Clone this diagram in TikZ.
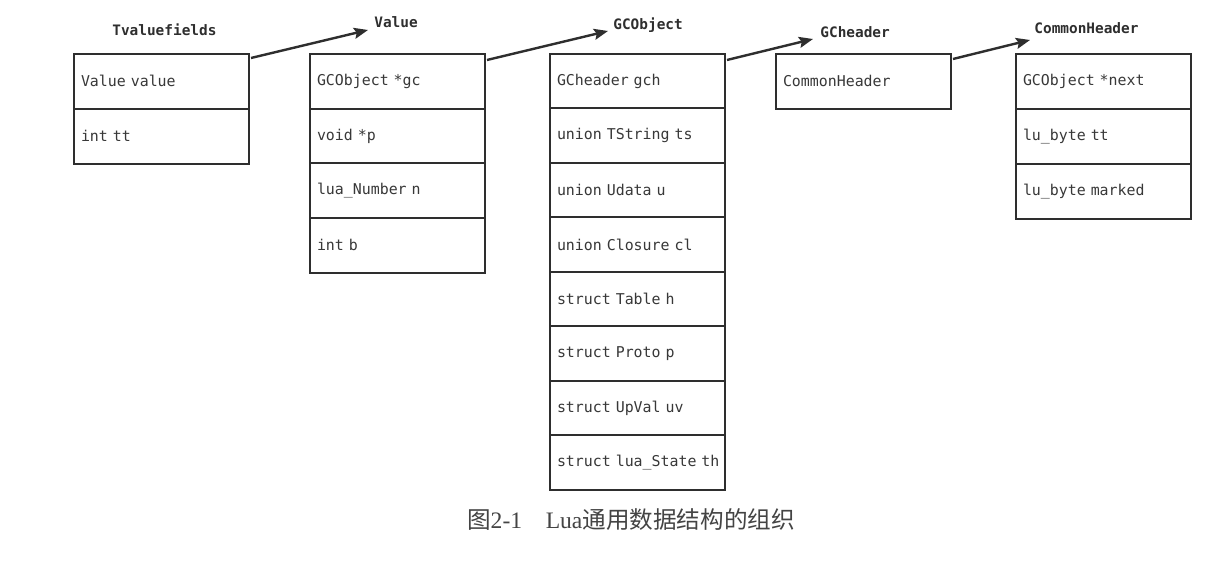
\documentclass[tikz,border=0pt]{standalone}
\usepackage{fontspec}
\usetikzlibrary{arrows.meta}
\setmainfont{Liberation Serif}
\newfontfamily\monof{DejaVu Sans Mono}
\newfontfamily\cjk{Noto Sans CJK SC}
\definecolor{linec}{HTML}{2E2E2E}
\definecolor{textc}{HTML}{383838}
\definecolor{capc}{HTML}{444444}
\newcommand{\celltext}[1]{\makebox[80.5pt][l]{#1}}
\begin{document}
\begin{tikzpicture}[x=0.5pt,y=-0.5pt,
  cell/.style={draw=linec, line width=1pt, fill=white, minimum height=27.3pt,
    text width=80.5pt, inner xsep=3.5pt, inner ysep=0pt, align=left,
    anchor=north west, font=\monof\fontsize{7.45}{8}\selectfont, text=textc},
  title/.style={anchor=west, inner sep=0pt, text=linec,
    font=\monof\bfseries\fontsize{7.2}{8}\selectfont},
  arr/.style={draw=linec, line width=1.2pt, -{Stealth[length=7pt,width=5.5pt,inset=1.2pt]}}]
\useasboundingbox[fill=white] (0,0) rectangle (1230,565);

% titles
\node[title] (htv) at (112,30) {Tvaluefields};
\node[title] (hv)  at (374,22) {Value};
\node[title] (hg)  at (613,25) {GCObject};
\node[title] (hh)  at (820,32) {GCheader};
\node[title] (hc)  at (1034,28) {CommonHeader};

% Tvaluefields
\foreach \t [count=\i from 0] in {Value value, int tt}
  \node[cell] (t\i) at (73,53+55*\i) {\celltext{\t}};
% Value
\foreach \t [count=\i from 0] in {GCObject *gc, void *p, lua\_Number n, int b}
  \node[cell] (v\i) at (309,53+54.7*\i) {\celltext{\t}};
% GCObject
\foreach \t [count=\i from 0] in {GCheader gch, union TString ts, union Udata u, union Closure cl,
    struct Table h, struct Proto p, struct UpVal uv, struct lua\_State th}
  \node[cell] (g\i) at (549,53+54.5*\i) {\celltext{\t}};
% GCheader
\node[cell] (h0) at (775,53) {\celltext{CommonHeader}};
% CommonHeader
\foreach \t [count=\i from 0] in {GCObject *next, lu\_byte tt, lu\_byte marked}
  \node[cell] (c\i) at (1015,53+55*\i) {\celltext{\t}};

% arrows
\draw[arr] ([xshift=0.5pt,yshift=-2.5pt]t0.north east) -- ([xshift=-3pt,yshift=-4pt]hv.west);
\draw[arr] ([xshift=0.5pt,yshift=-3.5pt]v0.north east) -- ([xshift=-2.5pt,yshift=-3pt]hg.west);
\draw[arr] ([xshift=0.5pt,yshift=-3.5pt]g0.north east) -- ([xshift=-3.5pt,yshift=-3.5pt]hh.west);
\draw[arr] ([xshift=0.5pt,yshift=-3pt]h0.north east) -- ([xshift=-2pt,yshift=-6pt]hc.west);

% caption
\node[inner sep=0pt, text=capc, font=\fontsize{11.8}{13}\selectfont] (cap) at (631,520)
  {{\cjk 图}2-1\hspace{1em}Lua{\cjk 通用数据结构的组织}};
\end{tikzpicture}
\end{document}
